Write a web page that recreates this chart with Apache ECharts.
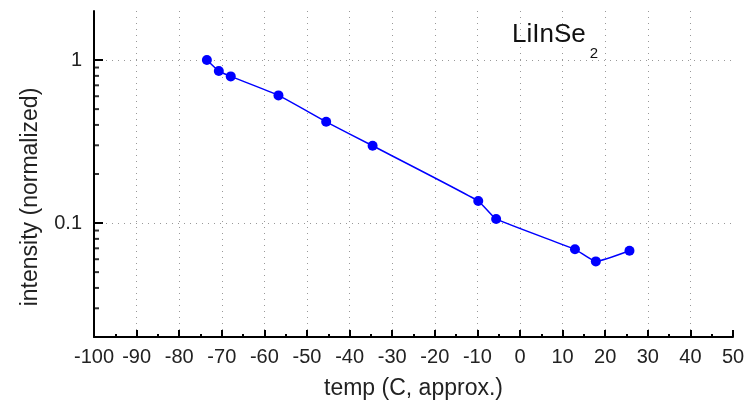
<!DOCTYPE html>
<html lang="en">
<head>
    <meta charset="UTF-8">
    <title>LiInSe2 intensity vs temp</title>
    <script src="https://cdn.jsdelivr.net/npm/echarts@6/dist/echarts.min.js"></script>
    <style>
        html, body { margin: 0; padding: 0; background: #fff; }
        #chart { width: 753px; height: 408px; }
    </style>
</head>
<body>
<div id="chart"></div>
<script>
    // measured points (temp in C, normalized intensity)
    var temps = [-73.5, -70.7, -67.9, -56.7, -45.5, -34.6, -9.8, -5.6, 12.9, 17.8, 25.7];
    var intensity = [1.0, 0.856, 0.794, 0.607, 0.418, 0.298, 0.1365, 0.106, 0.069, 0.0582, 0.0676];
    // minor ticks of the log axis
    var yMinorTicks = [0.9, 0.8, 0.7, 0.6, 0.5, 0.4, 0.3, 0.2,
        0.09, 0.08, 0.07, 0.06, 0.05, 0.04, 0.03];
    var yLabels = [0.1, 1];

    var font = 'Liberation Sans, Arial, sans-serif';
    var chart = echarts.init(document.getElementById('chart'));

    var pts = [];
    for (var i = 0; i < temps.length; i++) {
        pts.push([temps[i], intensity[i]]);
    }
    var minor = [];
    for (var j = 0; j < yMinorTicks.length; j++) {
        minor.push([-100, yMinorTicks[j]]);
    }

    chart.setOption({
        animation: false,
        backgroundColor: '#fff',
        title: {
            text: '{a|LiInSe}{b|2}',
            left: 507,
            top: 17,
            textStyle: {
                fontWeight: 'normal',
                rich: {
                    a: { fontFamily: font, fontSize: 26, fontWeight: 'normal', color: '#111', lineHeight: 30, verticalAlign: 'top' },
                    // subscript: bottom of a taller line box
                    b: { fontFamily: font, fontSize: 15, fontWeight: 'normal', color: '#111', lineHeight: 39, verticalAlign: 'bottom', padding: [0, 0, 0, 4] }
                }
            }
        },
        grid: { left: 94, right: 20, top: 11, bottom: 71 },
        xAxis: {
            type: 'value',
            min: -100,
            max: 50,
            interval: 10,
            name: 'temp (C, approx.)',
            nameLocation: 'middle',
            nameGap: 40,
            nameTextStyle: { fontFamily: font, fontSize: 23, color: '#222' },
            axisLine: { onZero: false, lineStyle: { color: '#000', width: 2 } },
            axisTick: { inside: true, length: 7, lineStyle: { color: '#000', width: 2 } },
            minorTick: { show: true, splitNumber: 2, length: 3, lineStyle: { color: '#000', width: 2 } },
            axisLabel: { fontFamily: font, fontSize: 20, color: '#222', margin: 10 },
            splitLine: {
                show: true, showMinLine: false, showMaxLine: false,
                lineStyle: { color: '#999', type: [1, 5], width: 1 }
            }
        },
        yAxis: {
            type: 'log',
            logBase: 10,
            min: 0.02,
            max: 2,
            name: 'intensity (normalized)',
            nameLocation: 'middle',
            nameGap: 52,
            nameTextStyle: { fontFamily: font, fontSize: 23, color: '#222', padding: [0, 46, 0, 0] },
            axisLine: { onZero: false, lineStyle: { color: '#000', width: 2 } },
            axisTick: { inside: true, length: 9, lineStyle: { color: '#000', width: 2 } },
            axisLabel: {
                fontFamily: font, fontSize: 20, color: '#222', margin: 12,
                showMinLabel: false, showMaxLabel: false,
                formatter: function (v) {
                    for (var k = 0; k < yLabels.length; k++) {
                        if (Math.abs(v - yLabels[k]) < 1e-9) return String(yLabels[k]);
                    }
                    return '';
                }
            },
            splitLine: {
                show: true, showMinLine: false, showMaxLine: false,
                lineStyle: { color: '#999', type: [1, 5], width: 1 }
            }
        },
        series: [
            {
                name: 'LiInSe2',
                type: 'line',
                data: pts,
                symbol: 'circle',
                symbolSize: 10,
                smooth: 0.15,
                itemStyle: { color: '#0000ff' },
                lineStyle: { color: '#0000ff', width: 1.5 },
                z: 5
            },
            {
                name: 'minor',
                type: 'scatter',
                data: minor,
                symbol: 'rect',
                symbolSize: [5, 2],
                symbolOffset: [2.5, 0],
                itemStyle: { color: '#000' },
                silent: true,
                clip: false,
                z: 6
            }
        ]
    });
</script>
</body>
</html>
